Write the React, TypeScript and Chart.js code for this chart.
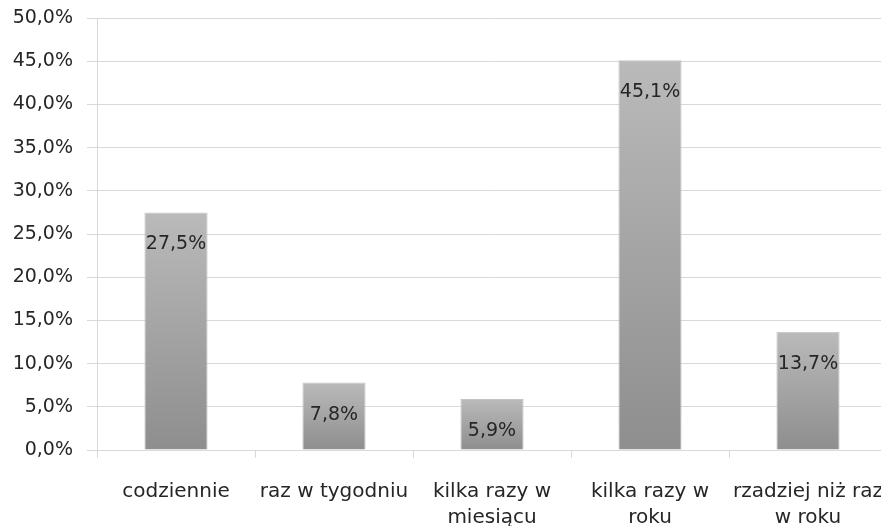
import React, { useEffect, useRef } from "react";
import { Chart, registerables } from "chart.js";

Chart.register(...registerables);

const categories: string[][] = [
  ["codziennie"],
  ["raz w tygodniu"],
  ["kilka razy w", "miesiącu"],
  ["kilka razy w", "roku"],
  ["rzadziej niż raz", "w roku"],
];
const values: number[] = [27.5, 7.8, 5.9, 45.1, 13.7];
const yMin = 0;
const yMax = 50;
const yStep = 5;

const FONT = "'DejaVu Sans', Verdana, sans-serif";
const fmt = (v: number) => v.toFixed(1).replace(".", ",") + "%";

const labelPlugin = {
  id: "barLabels",
  afterDatasetsDraw(chart: any) {
    const ctx = chart.ctx;
    const meta = chart.getDatasetMeta(0);
    ctx.save();
    ctx.font = `19px ${FONT}`;
    ctx.fillStyle = "#262626";
    ctx.textAlign = "center";
    ctx.textBaseline = "middle";
    meta.data.forEach((bar: any, i: number) => {
      ctx.fillText(fmt(values[i]), bar.x, bar.y + 32);
    });
    ctx.restore();
  },
};

export default function App() {
  const ref = useRef<HTMLCanvasElement | null>(null);
  useEffect(() => {
    if (!ref.current) return;
    const chart = new Chart(ref.current, {
      type: "bar",
      data: {
        labels: categories,
        datasets: [
          {
            data: values,
            backgroundColor: (c: any) => {
              const chart = c.chart;
              const ys = chart.scales?.y;
              if (!ys || c.dataIndex === undefined) return "#a5a5a5";
              const top = ys.getPixelForValue(values[c.dataIndex]);
              const bottom = ys.getPixelForValue(0);
              if (!isFinite(top) || !isFinite(bottom) || top === bottom) return "#a5a5a5";
              const g = chart.ctx.createLinearGradient(0, top, 0, bottom);
              g.addColorStop(0, "#bababa");
              g.addColorStop(1, "#8e8e8e");
              return g;
            },
            borderColor: "#c4c4c4",
            borderWidth: 1,
            categoryPercentage: 0.8,
            barPercentage: 0.5,
          },
        ],
      },
      options: {
        animation: false,
        responsive: false,
        devicePixelRatio: 1,
        layout: { padding: { top: 18, right: 0, bottom: 0, left: 0 } },
        plugins: {
          legend: { display: false },
          tooltip: { enabled: false },
        },
        scales: {
          x: {
            grid: {
              display: true,
              drawOnChartArea: false,
              drawTicks: true,
              tickLength: 8,
              color: "#d9d9d9",
              lineWidth: 1,
            },
            border: { display: true, color: "#d9d9d9" },
            ticks: {
              color: "#262626",
              font: { family: FONT, size: 20, lineHeight: 1.3 },
              padding: 21,
              maxRotation: 0,
              autoSkip: false,
            },
            afterFit: (s: any) => {
              s.height = 76;
              s.paddingLeft = 0;
              s.paddingRight = 0;
            },
          },
          y: {
            min: yMin,
            max: yMax,
            grid: {
              color: "#d9d9d9",
              lineWidth: 1,
              drawTicks: true,
              tickLength: 10,
            },
            border: { display: true, color: "#d9d9d9" },
            ticks: {
              stepSize: yStep,
              color: "#262626",
              font: { family: FONT, size: 19 },
              padding: 14,
              callback: (v: any) => fmt(Number(v)),
            },
            afterFit: (s: any) => {
              s.width = 97;
              s.paddingTop = 0;
              s.paddingBottom = 0;
            },
          },
        },
      },
      plugins: [labelPlugin],
    });
    return () => chart.destroy();
  }, []);
  return (
    <div
      style={{
        position: "fixed",
        left: 0,
        top: 0,
        width: 881,
        height: 526,
        overflow: "hidden",
        background: "#fff",
      }}
    >
      <canvas ref={ref} width={887} height={526} style={{ display: "block" }} />
    </div>
  );
}
